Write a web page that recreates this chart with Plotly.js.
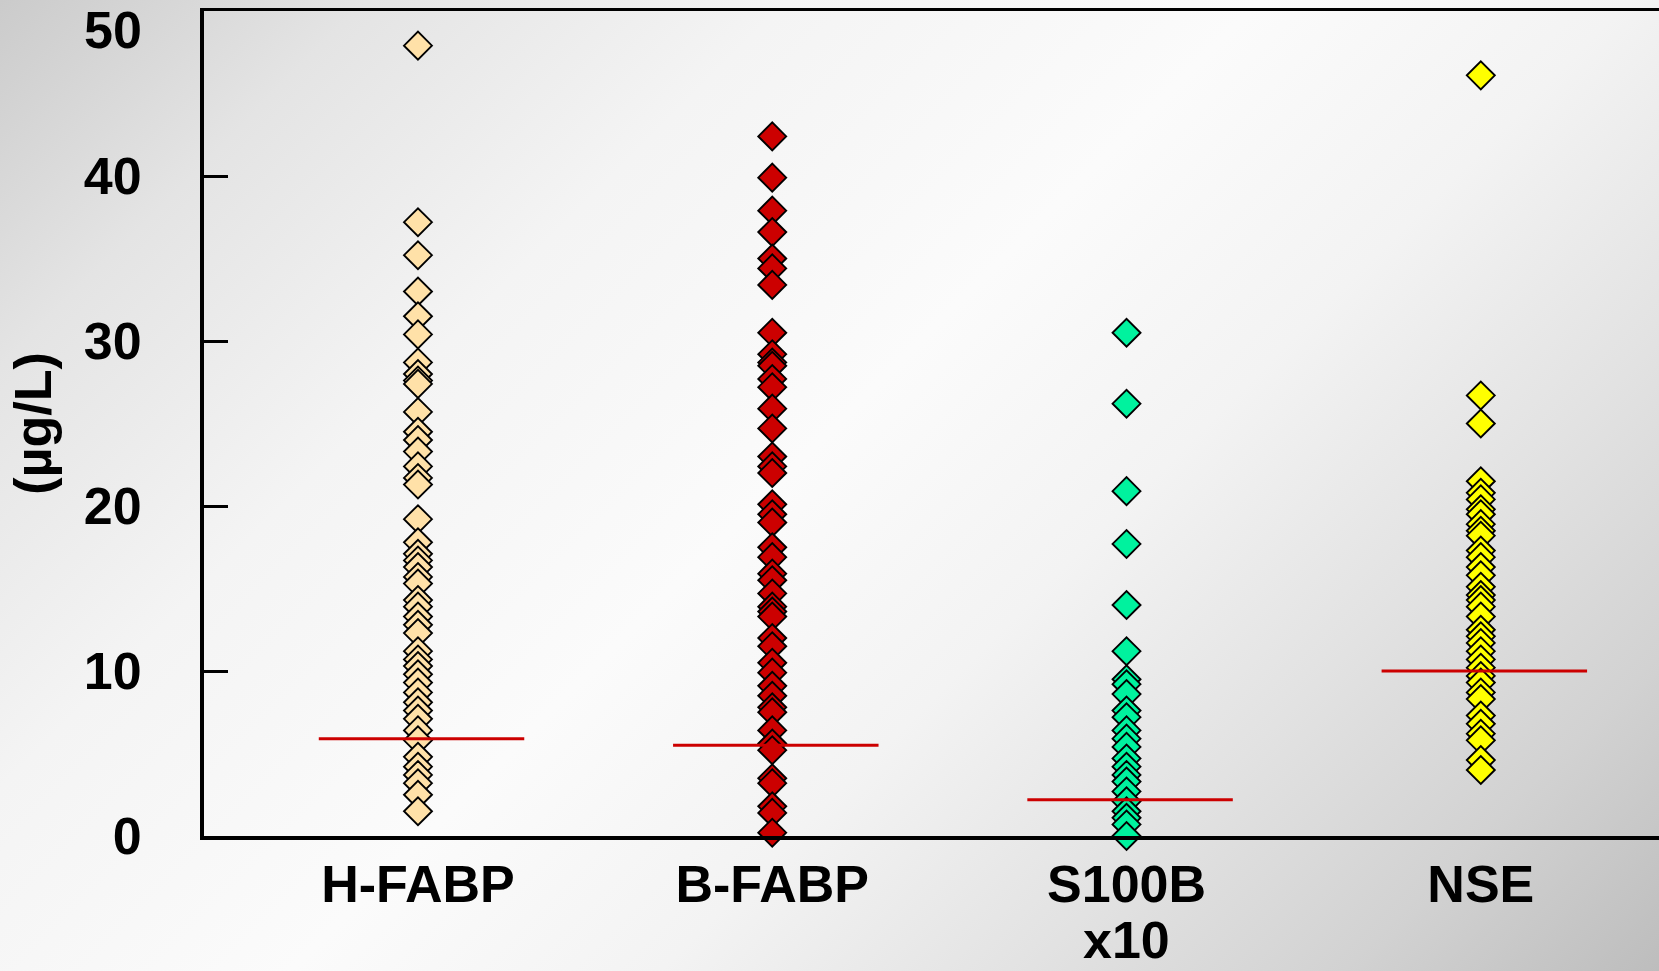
<!DOCTYPE html>
<html>
<head>
<meta charset="utf-8">
<script src="https://cdn.plot.ly/plotly-3.0.1.min.js"></script>
<style>
  html, body { margin: 0; padding: 0; }
  body {
    width: 1659px; height: 971px; overflow: hidden;
    background: linear-gradient(135deg, #cbcbcb 0%, #e4e4e4 14%, #f4f4f4 30%, #fbfbfb 48%, #f3f3f3 62%, #e2e2e2 76%, #d2d2d2 88%, #bdbdbd 100%);
  }
  #chart { width: 1659px; height: 971px; }
</style>
</head>
<body>
<div id="chart"></div>
<script>
// ---- data ----
const categories = ["H-FABP", "B-FABP", "S100B", "NSE"];
const subLabels = ["", "", "x10", ""];

const hfabp = [47.9, 37.2, 35.2, 33.0, 31.5, 30.4, 28.7, 28.0, 27.6, 27.4, 25.7, 24.5, 24.0, 23.3,
  22.4, 21.7, 21.3, 19.2, 17.8, 17.1, 16.7, 16.3, 15.7, 15.3, 14.3, 13.9, 13.3, 12.8, 12.3, 11.2,
  10.7, 10.3, 9.8, 9.3, 8.7, 8.1, 7.6, 7.1, 6.4, 5.8, 4.8, 4.2, 3.7, 3.2, 2.5, 1.5];

const bfabp = [42.4, 39.9, 37.9, 36.6, 35.0, 34.4, 33.4, 30.5, 29.2, 28.7, 28.5, 27.7, 27.2, 25.9,
  24.7, 23.0, 22.4, 22.0, 20.1, 19.5, 19.0, 17.5, 16.9, 15.9, 15.5, 14.7, 13.9, 13.6, 13.3, 12.0,
  11.5, 10.5, 9.9, 9.1, 8.5, 7.8, 7.5, 6.4, 5.6, 5.2, 3.5, 3.2, 1.8, 1.4, 0.2];

const s100b = [30.5, 26.2, 20.9, 17.7, 14.0, 11.2, 9.5, 9.2, 8.6, 7.6, 7.2, 6.4, 5.9, 5.4, 4.7,
  4.2, 3.7, 3.3, 2.7, 2.1, 1.5, 1.1, 0.7, 0.0];

const nse = [46.1, 26.7, 25.0, 21.5, 20.8, 20.4, 19.8, 19.5, 18.9, 18.5, 18.2, 17.3, 16.9, 16.3,
  15.8, 15.1, 14.6, 14.3, 13.9, 13.3, 12.5, 12.1, 11.7, 11.2, 10.7, 10.2, 9.7, 9.3, 8.7, 8.3,
  7.3, 6.8, 6.2, 5.8, 4.6, 4.0];

const medians = [5.9, 5.5, 2.2, 10.0];

const yTickVals = [0, 10, 20, 30, 40, 50];
const yTickText = ["0", "10", "20", "30", "40", ""];
const yTopLabel = "50";
const yTitle = "(µg/L)";

// ---- styles ----
const series = [hfabp, bfabp, s100b, nse];
const fills = ["#FFE1A8", "#CC0000", "#00F29E", "#FFFF00"];
const FONT = "Liberation Sans, Arial, Helvetica, sans-serif";
const textFont = { family: FONT, size: 52, color: "#000000", weight: "bold" };

const traces = [];
series.forEach((vals, i) => {
  traces.push({
    type: "scatter",
    mode: "markers",
    x: vals.map(() => i),
    y: vals,
    cliponaxis: false,
    hoverinfo: "y",
    marker: {
      symbol: "diamond",
      size: 21.5,
      color: fills[i],
      line: { color: "#000000", width: 1.9 }
    },
    showlegend: false
  });
});
medians.forEach((m, i) => {
  traces.push({
    type: "scatter",
    mode: "lines",
    x: [i - 0.28, i + 0.30],
    y: [m, m],
    cliponaxis: false,
    line: { color: "#CC0000", width: 3 },
    hoverinfo: "skip",
    showlegend: false
  });
});

const annotations = [{
  text: yTopLabel,
  xref: "paper", yref: "y",
  x: -60 / 1455, y: 50,
  xanchor: "right", yanchor: "middle",
  yshift: -19,
  showarrow: false,
  font: textFont
}];
subLabels.forEach((s, i) => {
  if (!s) return;
  annotations.push({
    text: s,
    xref: "x", yref: "paper",
    x: i, y: -0.1265,
    xanchor: "center", yanchor: "middle",
    showarrow: false,
    font: textFont
  });
});

const layout = {
  width: 1659,
  height: 971,
  margin: { l: 204, r: 0, t: 11, b: 135, pad: 0 },
  paper_bgcolor: "rgba(0,0,0,0)",
  plot_bgcolor: "rgba(0,0,0,0)",
  font: textFont,
  xaxis: {
    range: [-0.604, 3.503],
    tickmode: "array",
    tickvals: categories.map((c, i) => i),
    ticktext: categories,
    ticks: "",
    ticklen: 0,
    showgrid: false,
    zeroline: false,
    showline: true,
    linecolor: "#000000",
    linewidth: 3.5,
    mirror: true,
    ticklabelstandoff: 0,
    tickfont: textFont,
    fixedrange: true
  },
  yaxis: {
    range: [0, 50],
    tickmode: "array",
    tickvals: yTickVals,
    ticktext: yTickText,
    ticks: "inside",
    ticklen: 24,
    tickwidth: 3,
    tickcolor: "#000000",
    showgrid: false,
    zeroline: false,
    showline: true,
    linecolor: "#000000",
    linewidth: 4,
    ticklabelstandoff: 48,
    tickfont: textFont,
    title: {
      text: yTitle,
      font: textFont,
      standoff: 17
    },
    fixedrange: true
  },
  annotations: annotations
};

Plotly.newPlot("chart", traces, layout, { displayModeBar: false, staticPlot: true });
</script>
</body>
</html>
